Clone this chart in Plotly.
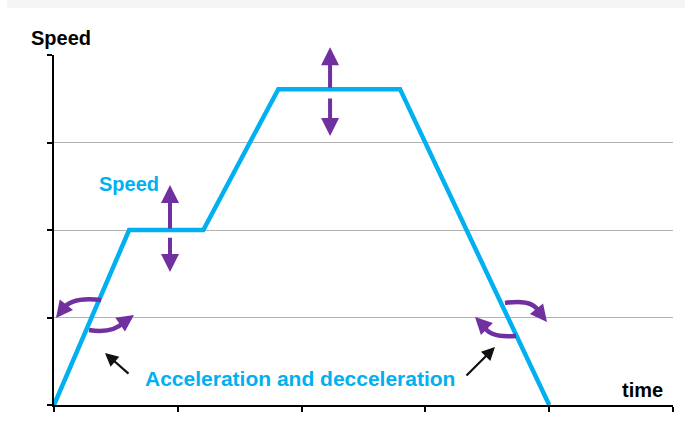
import plotly.graph_objects as go

# Speed profile: ramp up, hold, ramp up, cruise, ramp down
time_pts = [0.0, 0.607, 1.206, 1.812, 2.795, 4.0]
speed_pts = [0.0, 2.0, 2.0, 3.61, 3.61, 0.0]

x_ticks = [0, 1, 2, 3, 4, 5]
y_ticks = [0, 1, 2, 3, 4]

BLUE = "#00b0f0"
PURPLE = "#7030a0"
FONT = "Liberation Sans, Arial, sans-serif"

# Double-headed speed adjustment arrows: (x, tail_y, tip_y)
speed_arrows = [
    (0.937, 2.00, 2.514),
    (0.937, 1.93, 1.52),
    (2.23, 3.61, 4.09),
    (2.23, 3.52, 3.074),
]

# Curved rotation arrows: start, control, end, tip (data units)
curl_arrows = [
    ((0.380, 1.200), (0.140, 1.240), (0.073, 1.097), (0.016, 0.994)),
    ((0.283, 0.857), (0.475, 0.815), (0.565, 0.949), (0.646, 1.029)),
    ((3.643, 1.166), (3.870, 1.215), (3.918, 1.063), (3.982, 0.949)),
    ((3.732, 0.789), (3.515, 0.762), (3.473, 0.903), (3.401, 1.006)),
]

# Pointer arrows to the label: (tail, tip)
pointer_arrows = [
    ((0.614, 0.343), (0.412, 0.594)),
    ((3.320, 0.320), (3.562, 0.663)),
]

fig = go.Figure()
fig.add_trace(go.Scatter(
    x=time_pts, y=speed_pts, mode="lines",
    line=dict(color=BLUE, width=4.5), hoverinfo="skip", cliponaxis=False,
))

shapes = [
    dict(type="rect", xref="paper", yref="paper",
         x0=-0.076, x1=1.02, y0=1.134, y1=1.16,
         fillcolor="#f5f5f5", line=dict(width=0), layer="below"),
]
for (s, c, e, _tip) in curl_arrows:
    shapes.append(dict(
        type="path", xref="x", yref="y",
        path=f"M {s[0]},{s[1]} Q {c[0]},{c[1]} {e[0]},{e[1]}",
        line=dict(color=PURPLE, width=4.5),
    ))

annotations = []
for (x, ty, hy) in speed_arrows:
    annotations.append(dict(
        x=x, y=hy, ax=x, ay=ty, xref="x", yref="y", axref="x", ayref="y",
        text="", showarrow=True, arrowhead=2, arrowsize=0.9,
        arrowwidth=4, arrowcolor=PURPLE, standoff=0, startstandoff=0,
    ))
for (s, c, e, tip) in curl_arrows:
    annotations.append(dict(
        x=tip[0], y=tip[1], ax=e[0], ay=e[1], xref="x", yref="y",
        axref="x", ayref="y", text="", showarrow=True, arrowhead=2,
        arrowsize=0.75, arrowwidth=4.5, arrowcolor=PURPLE,
        standoff=0, startstandoff=0,
    ))
for (tail, tip) in pointer_arrows:
    annotations.append(dict(
        x=tip[0], y=tip[1], ax=tail[0], ay=tail[1], xref="x", yref="y",
        axref="x", ayref="y", text="", showarrow=True, arrowhead=2,
        arrowsize=1.2, arrowwidth=2.2, arrowcolor="#111111",
    ))

annotations += [
    dict(x=0.602, y=2.53, xref="x", yref="y", text="<b>Speed</b>",
         showarrow=False, font=dict(family=FONT, size=20, color=BLUE)),
    dict(x=1.99, y=0.30, xref="x", yref="y",
         text="<b>Acceleration and decceleration</b>",
         showarrow=False, font=dict(family=FONT, size=21, color=BLUE)),
    dict(x=4.754, y=0.17, xref="x", yref="y", text="<b>time</b>",
         showarrow=False, font=dict(family=FONT, size=20, color="#000000")),
    dict(x=0.012, y=1.049, xref="paper", yref="paper", text="<b>Speed</b>",
         xanchor="center", yanchor="middle",
         showarrow=False, font=dict(family=FONT, size=20, color="#000000")),
]

fig.update_layout(
    width=685, height=430,
    margin=dict(l=54, r=12, t=55, b=25),
    paper_bgcolor="white", plot_bgcolor="white",
    showlegend=False,
    shapes=shapes, annotations=annotations,
    xaxis=dict(range=[0, 5], tickvals=x_ticks, showticklabels=False,
               showgrid=False, zeroline=False, showline=True,
               linecolor="#000000", linewidth=2, ticks="outside",
               ticklen=5, tickwidth=2, tickcolor="#000000", fixedrange=True),
    yaxis=dict(range=[0, 4], tickvals=y_ticks, showticklabels=False,
               showgrid=True, gridcolor="#b3b3b3", gridwidth=1.3,
               zeroline=False, showline=True, linecolor="#000000",
               linewidth=2, ticks="outside", ticklen=5, tickwidth=2,
               tickcolor="#000000", fixedrange=True),
)

fig.write_html("out.html")
